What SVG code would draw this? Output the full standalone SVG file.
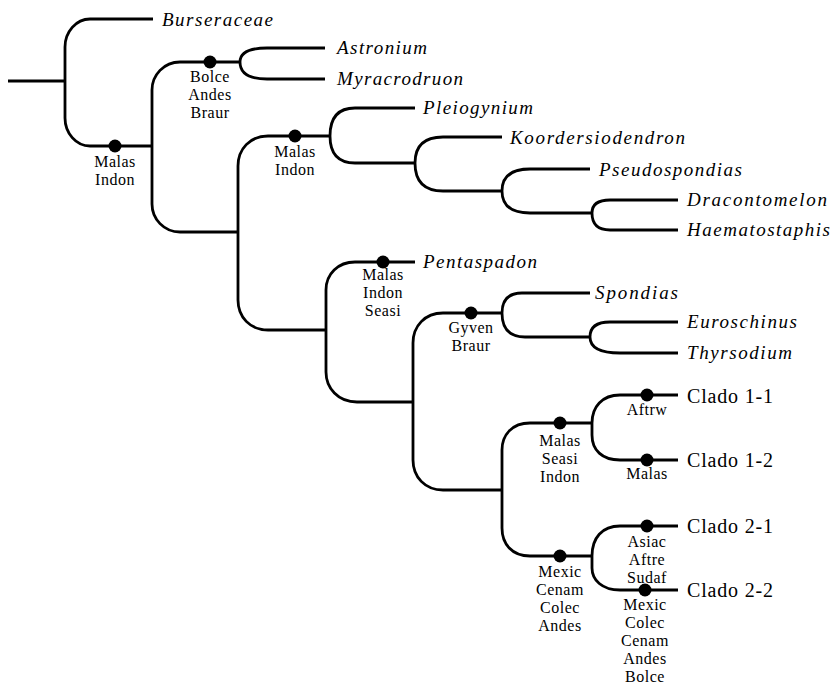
<svg xmlns="http://www.w3.org/2000/svg" width="834" height="686" viewBox="0 0 834 686">
<style>
.br{fill:none;stroke:#000;stroke-width:2.8;stroke-linecap:butt;stroke-linejoin:round}
.dot{fill:#000}
.tx{font-family:"Liberation Serif","Times New Roman",serif;font-style:italic;font-size:19px;fill:#000}
.cl{font-family:"Liberation Serif","Times New Roman",serif;font-size:20px;fill:#000}
.lb{font-family:"Liberation Serif","Times New Roman",serif;font-size:16px;letter-spacing:0.5px;fill:#000;text-anchor:middle}
</style>
<rect width="834" height="686" fill="#fff"/>
<g id="connectors">
<path class="br" d="M8,81 H65"/>
<path class="br" d="M65,81 V47 C65,32 76,19 90,19 H153"/>
<path class="br" d="M65,81 V118 C65,133 76,146 90,146 H152"/>
<path class="br" d="M152,146 V90 C152,75 164,62 180,62 H240"/>
<path class="br" d="M152,146 V204 C152,219 164,232 180,232 H238"/>
<path class="br" d="M240,62 Q240,48 267,48 H325"/>
<path class="br" d="M240,62 Q240,79 267,79 H325"/>
<path class="br" d="M238,232 V166 C238,149 250,136 268,136 H330"/>
<path class="br" d="M238,232 V300 C238,317 250,330 268,330 H326"/>
<path class="br" d="M330,136 C330,118 338,108 355,108 H415"/>
<path class="br" d="M330,136 Q330,163 355,163 H415"/>
<path class="br" d="M415,163 Q415,137 443,137 H502"/>
<path class="br" d="M415,163 Q415,191 443,191 H502"/>
<path class="br" d="M502,191 Q502,169 530,169 H590"/>
<path class="br" d="M502,191 Q502,213 530,213 H592"/>
<path class="br" d="M592,213 Q592,200 610,200 H678"/>
<path class="br" d="M592,213 Q592,230 610,230 H678"/>
<path class="br" d="M326,330 V290 C326,274 338,262 355,262 H415"/>
<path class="br" d="M326,330 V372 C326,388 338,402 357,402 H413"/>
<path class="br" d="M413,402 V343 C413,326 425,313 443,313 H502"/>
<path class="br" d="M413,402 V460 C413,477 425,490 443,490 H502"/>
<path class="br" d="M502,313 Q502,293 522,293 H590"/>
<path class="br" d="M502,313 Q502,337 525,337 H590"/>
<path class="br" d="M590,337 Q590,322 610,322 H678"/>
<path class="br" d="M590,337 Q590,353 620,353 H678"/>
<path class="br" d="M502,490 V450 C502,435 512,423 530,423 H592"/>
<path class="br" d="M502,490 V528 C502,544 512,556 530,556 H592"/>
<path class="br" d="M592,423 C592,407 602,395 620,395 H678"/>
<path class="br" d="M592,423 V435 C592,450 602,460 620,460 H678"/>
<path class="br" d="M592,556 C592,538 602,526 620,526 H678"/>
<path class="br" d="M592,556 V568 C592,580 602,590 620,590 H678"/>
</g>
<g id="taxon-burseraceae"><text class="tx" x="162" y="26" textLength="111" lengthAdjust="spacing">Burseraceae</text></g>
<g id="taxon-astronium"><text class="tx" x="337" y="54" textLength="90" lengthAdjust="spacing">Astronium</text></g>
<g id="taxon-myracrodruon"><text class="tx" x="337" y="85" textLength="126" lengthAdjust="spacing">Myracrodruon</text></g>
<g id="taxon-pleiogynium"><text class="tx" x="423" y="114" textLength="110" lengthAdjust="spacing">Pleiogynium</text></g>
<g id="taxon-koordersiodendron"><text class="tx" x="510" y="144" textLength="175" lengthAdjust="spacing">Koordersiodendron</text></g>
<g id="taxon-pseudospondias"><text class="tx" x="599" y="176" textLength="143" lengthAdjust="spacing">Pseudospondias</text></g>
<g id="taxon-dracontomelon"><text class="tx" x="687" y="206" textLength="140" lengthAdjust="spacing">Dracontomelon</text></g>
<g id="taxon-haematostaphis"><text class="tx" x="687" y="236" textLength="143" lengthAdjust="spacing">Haematostaphis</text></g>
<g id="taxon-pentaspadon"><text class="tx" x="423" y="268" textLength="114" lengthAdjust="spacing">Pentaspadon</text></g>
<g id="taxon-spondias"><text class="tx" x="595" y="299" textLength="83" lengthAdjust="spacing">Spondias</text></g>
<g id="taxon-euroschinus"><text class="tx" x="687" y="328" textLength="110" lengthAdjust="spacing">Euroschinus</text></g>
<g id="taxon-thyrsodium"><text class="tx" x="687" y="359" textLength="105" lengthAdjust="spacing">Thyrsodium</text></g>
<g id="clado-1-1"><text class="cl" x="687" y="403" textLength="86" lengthAdjust="spacing">Clado 1-1</text></g>
<g id="clado-1-2"><text class="cl" x="687" y="467" textLength="86" lengthAdjust="spacing">Clado 1-2</text></g>
<g id="clado-2-1"><text class="cl" x="687" y="533" textLength="86" lengthAdjust="spacing">Clado 2-1</text></g>
<g id="clado-2-2"><text class="cl" x="687" y="597" textLength="86" lengthAdjust="spacing">Clado 2-2</text></g>
<g id="node-a"><circle class="dot" cx="115" cy="146" r="6.5"/><text class="lb"><tspan x="115" y="167">Malas</tspan><tspan x="115" y="185">Indon</tspan></text></g>
<g id="node-b"><circle class="dot" cx="210" cy="62" r="6.5"/><text class="lb"><tspan x="210" y="82">Bolce</tspan><tspan x="210" y="100">Andes</tspan><tspan x="210" y="118">Braur</tspan></text></g>
<g id="node-c"><circle class="dot" cx="295" cy="136" r="6.5"/><text class="lb"><tspan x="295" y="157">Malas</tspan><tspan x="295" y="175">Indon</tspan></text></g>
<g id="node-d"><circle class="dot" cx="383" cy="262" r="6.5"/><text class="lb"><tspan x="383" y="280">Malas</tspan><tspan x="383" y="298">Indon</tspan><tspan x="383" y="316">Seasi</tspan></text></g>
<g id="node-e"><circle class="dot" cx="471" cy="313" r="6.5"/><text class="lb"><tspan x="471" y="333">Gyven</tspan><tspan x="471" y="351">Braur</tspan></text></g>
<g id="node-f"><circle class="dot" cx="560" cy="423" r="6.5"/><text class="lb"><tspan x="560" y="446">Malas</tspan><tspan x="560" y="464">Seasi</tspan><tspan x="560" y="482">Indon</tspan></text></g>
<g id="node-g"><circle class="dot" cx="560" cy="556" r="6.5"/><text class="lb"><tspan x="560" y="577">Mexic</tspan><tspan x="560" y="595">Cenam</tspan><tspan x="560" y="613">Colec</tspan><tspan x="560" y="631">Andes</tspan></text></g>
<g id="node-h"><circle class="dot" cx="647" cy="395" r="6.5"/><text class="lb"><tspan x="647" y="415">Aftrw</tspan></text></g>
<g id="node-i"><circle class="dot" cx="647" cy="460" r="6.5"/><text class="lb"><tspan x="647" y="479">Malas</tspan></text></g>
<g id="node-j"><circle class="dot" cx="647" cy="526" r="6.5"/><text class="lb"><tspan x="647" y="547">Asiac</tspan><tspan x="647" y="565">Aftre</tspan><tspan x="647" y="583">Sudaf</tspan></text></g>
<g id="node-k"><circle class="dot" cx="645" cy="590" r="6.5"/><text class="lb"><tspan x="645" y="610">Mexic</tspan><tspan x="645" y="628">Colec</tspan><tspan x="645" y="646">Cenam</tspan><tspan x="645" y="664">Andes</tspan><tspan x="645" y="682">Bolce</tspan></text></g>
</svg>
